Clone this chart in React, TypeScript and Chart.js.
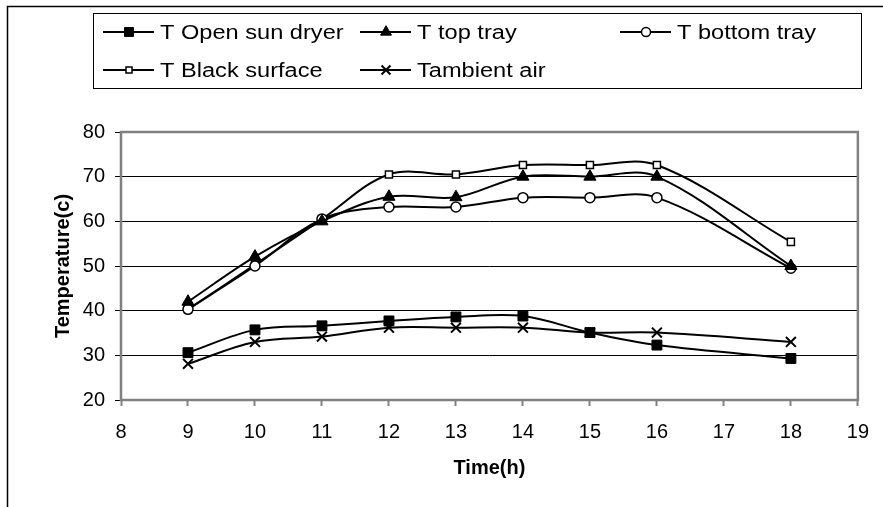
import React, { useEffect, useRef } from 'react';
import { Chart, registerables } from 'chart.js';

Chart.register(...registerables);

// ---- data ----
const hours = [9, 10, 11, 12, 13, 14, 15, 16, 18];
const openSun = [30.6, 35.7, 36.6, 37.7, 38.6, 38.8, 35.1, 32.3, 29.3];
const topTray = [42.0, 52.1, 60.0, 65.5, 65.4, 70.0, 70.0, 70.0, 50.0];
const bottomTray = [40.3, 50.0, 60.5, 63.2, 63.2, 65.3, 65.3, 65.3, 49.5];
const blackSurface = [40.3, 50.3, 60.5, 70.5, 70.5, 72.6, 72.6, 72.6, 55.4];
const ambient = [28.1, 33.0, 34.2, 36.2, 36.2, 36.2, 35.1, 35.1, 33.0];
const seriesNames = ['T Open sun dryer', 'T top tray', 'T bottom tray', 'T Black surface', 'Tambient air'];
const xMin = 8;
const xMax = 19;
const yMin = 20;
const yMax = 80;
const xTitle = 'Time(h)';
const yTitle = 'Temperature(c)';

const FONT = "'Liberation Sans', Arial, sans-serif";

type Marker = { style: string; radius: number; fill: string; bw: number };
const markers: Marker[] = [
  { style: 'rect', radius: 7, fill: '#000', bw: 1 },
  { style: 'triangle', radius: 7, fill: '#000', bw: 1 },
  { style: 'circle', radius: 5, fill: '#fff', bw: 1.5 },
  { style: 'rect', radius: 5, fill: '#fff', bw: 1.5 },
  { style: 'crossRot', radius: 7, fill: '#000', bw: 2 },
];

function drawMarker(ctx: CanvasRenderingContext2D, m: Marker, x: number, y: number, scale = 1) {
  const r = m.radius * scale;
  ctx.save();
  ctx.lineWidth = m.bw;
  ctx.strokeStyle = '#000';
  ctx.fillStyle = m.fill;
  ctx.beginPath();
  if (m.style === 'rect') {
    const s = Math.SQRT1_2 * r;
    ctx.rect(x - s, y - s, 2 * s, 2 * s);
    ctx.fill();
    ctx.stroke();
  } else if (m.style === 'triangle') {
    const h = r * 1.5;
    ctx.moveTo(x, y - r);
    ctx.lineTo(x + r * 0.866, y + h - r);
    ctx.lineTo(x - r * 0.866, y + h - r);
    ctx.closePath();
    ctx.fill();
    ctx.stroke();
  } else if (m.style === 'circle') {
    ctx.arc(x, y, r, 0, Math.PI * 2);
    ctx.fill();
    ctx.stroke();
  } else if (m.style === 'crossRot') {
    const d = r * Math.SQRT1_2;
    ctx.moveTo(x - d, y - d);
    ctx.lineTo(x + d, y + d);
    ctx.moveTo(x + d, y - d);
    ctx.lineTo(x - d, y + d);
    ctx.stroke();
  }
  ctx.restore();
}

const excelPlugin = {
  id: 'excelFrame',
  beforeDraw(chart: any) {
    const { ctx, width, height } = chart;
    ctx.save();
    ctx.fillStyle = '#fff';
    ctx.fillRect(0, 0, width, height);
    ctx.strokeStyle = '#000';
    ctx.lineWidth = 1.5;
    ctx.strokeRect(7.5, 6.5, width + 20, height + 20);
    ctx.restore();
  },
  beforeDatasetsDraw(chart: any) {
    const { ctx, chartArea: a } = chart;
    ctx.save();
    ctx.strokeStyle = '#808080';
    ctx.lineWidth = 2.5;
    ctx.strokeRect(a.left, a.top, a.right - a.left, a.bottom - a.top);
    ctx.restore();
  },
  afterDraw(chart: any) {
    const { ctx } = chart;
    ctx.save();
    // legend box
    ctx.strokeStyle = '#000';
    ctx.lineWidth = 1;
    ctx.strokeRect(93.5, 13.5, 768, 75);
    const cols = [103, 360, 620];
    const rows = [32, 70];
    seriesNames.forEach((name, i) => {
      const x0 = cols[i % 3];
      const y = rows[Math.floor(i / 3)];
      ctx.strokeStyle = '#000';
      ctx.lineWidth = 2;
      ctx.beginPath();
      ctx.moveTo(x0, y);
      ctx.lineTo(x0 + 51, y);
      ctx.stroke();
      drawMarker(ctx, markers[i], x0 + 26, y, i === 3 ? 0.85 : 0.9);
      ctx.save();
      ctx.translate(x0 + 57, y + 1);
      ctx.scale(1.18, 1);
      ctx.font = `20px ${FONT}`;
      ctx.fillStyle = '#000';
      ctx.textBaseline = 'middle';
      ctx.fillText(name, 0, 0);
      ctx.restore();
    });
    ctx.restore();
  },
};

function App() {
  const ref = useRef<HTMLCanvasElement | null>(null);
  useEffect(() => {
    if (!ref.current) return;
    const series = [openSun, topTray, bottomTray, blackSurface, ambient];
    const chart = new Chart(ref.current, {
      type: 'line',
      data: {
        datasets: series.map((vals, i) => ({
          label: seriesNames[i],
          data: hours.map((h, j) => ({ x: h, y: vals[j] })),
          borderColor: '#000',
          borderWidth: 2,
          backgroundColor: markers[i].fill,
          pointBackgroundColor: markers[i].fill,
          pointBorderColor: '#000',
          pointBorderWidth: markers[i].bw,
          pointStyle: markers[i].style as any,
          pointRadius: markers[i].radius,
          tension: 0.35,
          fill: false,
        })),
      },
      options: {
        animation: false,
        responsive: true,
        maintainAspectRatio: false,
        layout: { padding: { top: 132, right: 22, left: 0, bottom: 0 } },
        plugins: { legend: { display: false }, tooltip: { enabled: false } },
        scales: {
          x: {
            type: 'linear',
            min: xMin,
            max: xMax,
            ticks: { stepSize: 1, color: '#000', font: { family: FONT, size: 20 }, padding: 14 },
            grid: { drawOnChartArea: false, drawTicks: true, tickLength: 6, tickColor: '#808080', tickWidth: 2 },
            border: { display: false },
            title: { display: true, text: xTitle, color: '#000', font: { family: FONT, size: 20, weight: 'bold' }, padding: { top: 0, bottom: 27 } },
            afterFit: (s: any) => { s.height = 107; },
          },
          y: {
            min: yMin,
            max: yMax,
            ticks: { stepSize: 10, color: '#000', font: { family: FONT, size: 20 }, padding: 10 },
            grid: {
              color: (c: any) => (c.tick && (c.tick.value === yMin || c.tick.value === yMax) ? 'rgba(0,0,0,0)' : '#000'),
              lineWidth: 1,
              drawTicks: true,
              tickLength: 6,
              tickColor: '#000',
            },
            border: { display: false },
            title: { display: true, text: yTitle, color: '#000', font: { family: FONT, size: 20, weight: 'bold' }, padding: { top: 51, bottom: 0 } },
            afterFit: (s: any) => { s.width = 121; },
          },
        },
      },
      plugins: [excelPlugin],
    });
    return () => chart.destroy();
  }, []);
  return (
    <div style={{ position: 'absolute', left: 0, top: 0, width: 883, height: 507 }}>
      <canvas ref={ref} />
    </div>
  );
}

export default App;
